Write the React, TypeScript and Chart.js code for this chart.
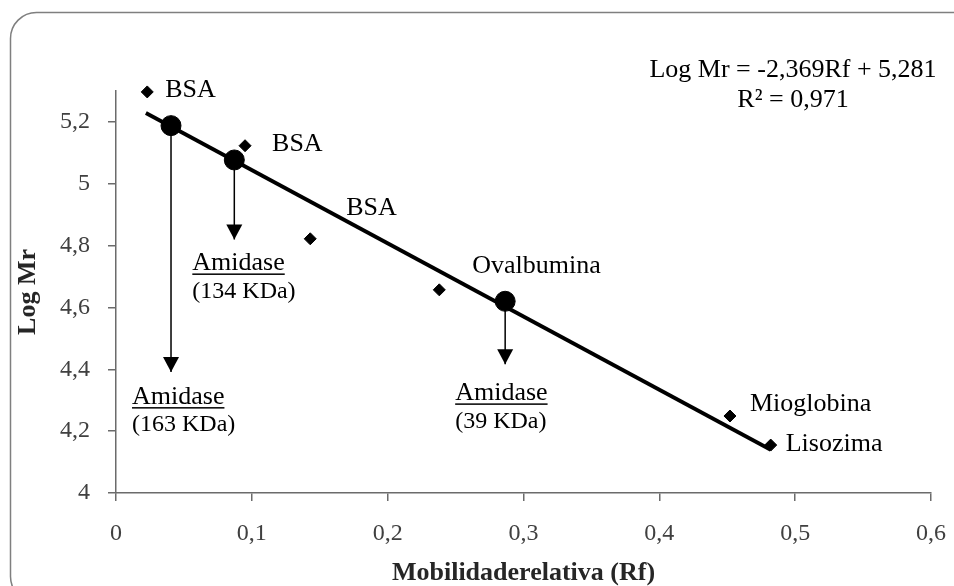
import React, { useEffect, useRef } from 'react';
import { Chart, registerables } from 'chart.js';

Chart.register(...registerables);

// ---- data ----
const standardNames = ['BSA', 'BSA', 'BSA', 'Ovalbumina', 'Mioglobina', 'Lisozima'];
const standardRf = [0.023, 0.095, 0.143, 0.238, 0.452, 0.482];
const standardLogMr = [5.297, 5.123, 4.822, 4.657, 4.249, 4.155];

const fitRf = [0.022, 0.482];
const fitLogMr = [5.229, 4.14];

const amidaseRf = [0.0405, 0.0871, 0.2865];
const amidaseLogMr = [5.188, 5.077, 4.62];
const amidaseArrowEnd = [4.391, 4.82, 4.416];
const amidaseName = 'Amidase';
const amidaseMass = ['(163 KDa)', '(134 KDa)', '(39 KDa)'];

const xTicks = [0, 0.1, 0.2, 0.3, 0.4, 0.5, 0.6];
const yTicks = [4, 4.2, 4.4, 4.6, 4.8, 5, 5.2];

const equationLines = ['Log Mr = -2,369Rf + 5,281', 'R\u00B2 = 0,971'];
const xTitle = 'Mobilidaderelativa (Rf)';
const yTitle = 'Log Mr';

// ---- label placement (pixel offsets from the mark) ----
const standardLabelOffsets = [
  [18, -2], [27, -2], [36, -31], [33, -24], [20, -12], [15, -1],
];
const amidaseLabelOffsets = [
  [-39, 25], [-42, 24], [-50, 29],
];

const FONT = "'Liberation Serif', 'Times New Roman', serif";
const fmt = (v: number) => String(Math.round(v * 10) / 10).replace('.', ',');

const annotate = {
  id: 'annotate',
  beforeDraw(chart: any) {
    const { ctx } = chart;
    ctx.save();
    ctx.strokeStyle = '#7f7f7f';
    ctx.lineWidth = 1.5;
    ctx.beginPath();
    ctx.roundRect(10.5, 12.5, 970, 590, 26);
    ctx.stroke();
    ctx.restore();
  },
  afterDatasetsDraw(chart: any) {
    const { ctx, chartArea } = chart;
    const x = chart.scales.x;
    const y = chart.scales.y;
    ctx.save();
    ctx.fillStyle = '#000';
    // arrowheads
    amidaseRf.forEach((rf, i) => {
      const px = x.getPixelForValue(rf);
      const py = y.getPixelForValue(amidaseArrowEnd[i]);
      ctx.beginPath();
      ctx.moveTo(px, py);
      ctx.lineTo(px - 8, py - 15);
      ctx.lineTo(px + 8, py - 15);
      ctx.closePath();
      ctx.fill();
    });
    ctx.font = `26px ${FONT}`;
    ctx.textBaseline = 'middle';
    ctx.textAlign = 'left';
    // standard labels
    standardNames.forEach((name, i) => {
      const px = x.getPixelForValue(standardRf[i]) + standardLabelOffsets[i][0];
      const py = y.getPixelForValue(standardLogMr[i]) + standardLabelOffsets[i][1];
      ctx.fillText(name, px, py);
    });
    // amidase labels
    amidaseRf.forEach((rf, i) => {
      const px = x.getPixelForValue(rf) + amidaseLabelOffsets[i][0];
      const py = y.getPixelForValue(amidaseArrowEnd[i]) + amidaseLabelOffsets[i][1];
      ctx.font = `26px ${FONT}`;
      ctx.fillText(amidaseName, px, py);
      const w = ctx.measureText(amidaseName).width;
      ctx.fillRect(px, py + 10, w, 1.5);
      ctx.font = `24px ${FONT}`;
      ctx.fillText(amidaseMass[i], px, py + 28);
    });
    // equation
    ctx.font = `26px ${FONT}`;
    ctx.textAlign = 'center';
    const cx = chartArea.right - 138;
    ctx.fillText(equationLines[0], cx, chartArea.top - 21);
    ctx.fillText(equationLines[1], cx, chartArea.top + 9);
    ctx.restore();
  },
};

export default function App() {
  const ref = useRef<HTMLCanvasElement>(null);
  useEffect(() => {
    document.body.style.margin = '0';
    const canvas = ref.current!;
    const chart = new Chart(canvas, {
      type: 'scatter',
      data: {
        datasets: [
          {
            label: 'Amidase',
            data: amidaseRf.map((rf, i) => ({ x: rf, y: amidaseLogMr[i] })),
            pointStyle: 'circle',
            pointRadius: 10,
            backgroundColor: '#000',
            borderColor: '#000',
            clip: false,
            order: 0,
          } as any,
          {
            label: 'Padrões',
            data: standardRf.map((rf, i) => ({ x: rf, y: standardLogMr[i] })),
            pointStyle: 'rectRot',
            pointRadius: 6,
            backgroundColor: '#000',
            borderColor: '#000',
            clip: false,
            order: 1,
          } as any,
          {
            type: 'line',
            label: 'Ajuste',
            data: fitRf.map((rf, i) => ({ x: rf, y: fitLogMr[i] })),
            borderColor: '#000',
            borderWidth: 3.8,
            pointRadius: 0,
            fill: false,
            clip: false,
            order: 2,
          } as any,
          ...amidaseRf.map((rf, i) => ({
            type: 'line',
            label: 'Seta ' + (i + 1),
            data: [
              { x: rf, y: amidaseLogMr[i] },
              { x: rf, y: amidaseArrowEnd[i] },
            ],
            borderColor: '#000',
            borderWidth: 1.5,
            pointRadius: 0,
            fill: false,
            order: 3,
          } as any)),
        ],
      },
      options: {
        animation: false,
        responsive: false,
        layout: { padding: { top: 91, right: 23, left: 0, bottom: 0 } },
        plugins: { legend: { display: false }, tooltip: { enabled: false } },
        scales: {
          x: {
            type: 'linear',
            min: 0,
            max: 0.6,
            afterFit: (s: any) => { s.height = 93; s.paddingLeft = 0; s.paddingRight = 0; },
            afterBuildTicks: (s: any) => { s.ticks = xTicks.map((v) => ({ value: v })); },
            grid: { display: true, drawOnChartArea: false, drawTicks: true, tickLength: 8, color: '#6b6b6b', lineWidth: 1.5 },
            border: { display: true, color: '#6b6b6b', width: 1.5 },
            ticks: {
              padding: 18,
              color: '#404040',
              font: { family: FONT, size: 24 },
              callback: (v: any) => fmt(Number(v)),
              maxRotation: 0,
            },
            title: {
              display: true,
              text: xTitle,
              color: '#262626',
              font: { family: FONT, size: 26, weight: 'bold', lineHeight: 1 },
              padding: { top: 0, bottom: 0 },
            },
          },
          y: {
            type: 'linear',
            min: 4,
            max: 5.3,
            afterFit: (s: any) => { s.width = 116; s.paddingTop = 0; s.paddingBottom = 0; },
            afterBuildTicks: (s: any) => { s.ticks = yTicks.map((v) => ({ value: v })); },
            grid: { display: true, drawOnChartArea: false, drawTicks: true, tickLength: 8, color: '#6b6b6b', lineWidth: 1.5 },
            border: { display: true, color: '#6b6b6b', width: 1.5 },
            ticks: {
              padding: 18,
              color: '#404040',
              font: { family: FONT, size: 24 },
              callback: (v: any) => fmt(Number(v)),
            },
            title: {
              display: true,
              text: yTitle,
              color: '#262626',
              font: { family: FONT, size: 26, weight: 'bold', lineHeight: 1 },
              padding: { top: 15, bottom: 0 },
            },
          },
        },
      },
      plugins: [annotate],
    });
    return () => chart.destroy();
  }, []);
  return (
    <div style={{ width: 954, height: 586, background: '#fff' }}>
      <canvas ref={ref} width={954} height={586} />
    </div>
  );
}
